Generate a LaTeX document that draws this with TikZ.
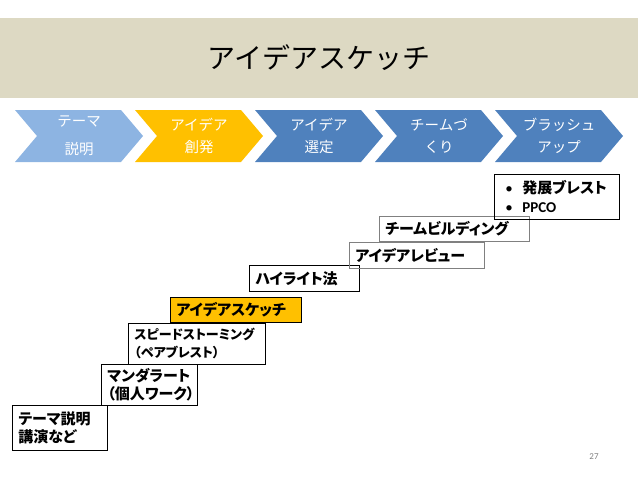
\documentclass[tikz,border=0pt]{standalone}
\usepackage{fontspec}
\setmainfont{Carlito}
\newfontfamily\jpfont{Noto Sans CJK JP}
\newfontfamily\jpprop{Noto Sans CJK JP}[RawFeature=+palt]
\definecolor{bandtan}{RGB}{221,217,195}
\definecolor{phaselight}{RGB}{141,180,226}
\definecolor{phasegold}{RGB}{255,192,0}
\definecolor{phaseblue}{RGB}{79,129,189}
\definecolor{edgegrey}{RGB}{128,128,128}

\begin{document}
\begin{tikzpicture}[
  x=1pt, y=-1pt,
  stairbox/.style={draw=black, line width=0.8pt, anchor=north west, inner xsep=6pt, inner ysep=0pt, align=left, font=\jpprop\bfseries\fontsize{15}{18}\selectfont},
  stairgold/.style={stairbox, fill=phasegold},
  stairgrey/.style={stairbox, draw=edgegrey},
  phasetext/.style={text=white, align=center, font=\jpfont\fontsize{14.5}{22}\selectfont}
]
\useasboundingbox (0,0) rectangle (638,479);

% Top: title band
\fill[bandtan] (0,18) rectangle (638,98);
\node[font=\jpfont\fontsize{28}{32}\selectfont] (title) at (319,58) {アイデアスケッチ};

% Phase chevrons
\foreach \i/\col/\txt in {0/phaselight/{テーマ\\[6pt]説明}, 1/phasegold/{アイデア\\創発}, 2/phaseblue/{アイデア\\選定}, 3/phaseblue/{チームづ\\くり}, 4/phaseblue/{ブラッシュ\\アップ}}{
  \fill[\col] (15+120*\i,110) -- ++(106,0) -- ++(22,26) -- ++(-22,26) -- ++(-106,0) -- ++(22,-26) -- cycle;
  \node[phasetext] (phase\i) at (79+120*\i,136) {\txt};
}

% Staircase of methods
\node[stairbox, text width=83pt, minimum height=45pt] (talk) at (12,405) {テーマ説明\\講演など};
\node[stairbox, text width=84pt, minimum height=41pt] (mandal) at (101,364) {マンダラート\\（個人ワーク）};
\node[stairbox, text width=125pt, minimum height=41pt, font=\jpprop\bfseries\fontsize{13}{18}\selectfont] (speed) at (128,323) {スピードストーミング\\（ペアブレスト）};
\node[stairgold, text width=119pt, minimum height=25pt] (sketch) at (170,297) {アイデアスケッチ};
\node[stairbox, text width=98pt, minimum height=26pt] (highlight) at (249,265) {ハイライト法};
\node[stairgrey, text width=123pt, minimum height=26pt] (review) at (349,242) {アイデアレビュー};
\node[stairgrey, text width=138pt, minimum height=25pt] (teambuild) at (379,216) {チームビルディング};

% Top step: bullet list
\node[stairbox, inner xsep=11pt, text width=103pt, minimum height=45pt, font=\jpprop\bfseries\fontsize{15}{19}\selectfont] (brush) at (494,174)
  {\makebox[17pt][l]{\rmfamily\mdseries\textbullet}発展ブレスト\\\makebox[17pt][l]{\rmfamily\mdseries\textbullet}{\rmfamily\fontsize{15}{19}\selectfont PPCO}};

% Page number
\node[text=edgegrey, font=\fontsize{9}{10}\selectfont] (pagenum) at (594,457) {27};
\end{tikzpicture}
\end{document}
